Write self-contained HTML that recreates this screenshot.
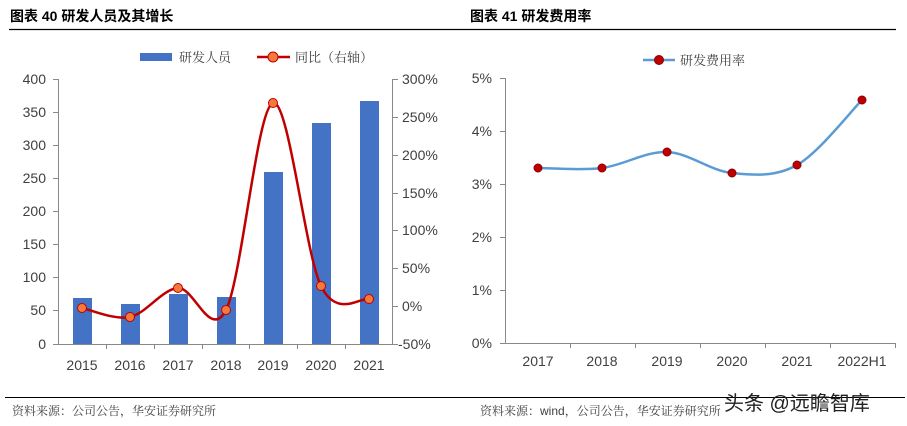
<!DOCTYPE html><html><head><meta charset="utf-8"><style>
body{margin:0;background:#fff;width:907px;height:426px;overflow:hidden}
svg{display:block}
.t{font-family:"Liberation Sans",sans-serif;font-size:14px;fill:#404040}
.c{font-family:"Liberation Serif","Noto Serif CJK SC",serif;fill:#404040;font-size:13px}
.h{font-family:"Liberation Sans","Noto Sans CJK SC",sans-serif;font-weight:bold;font-size:14px;fill:#000}
</style></head><body>
<svg width="907" height="426" viewBox="0 0 907 426">
<text class="h" x="10" y="21">图表 40 研发人员及其增长</text>
<text class="h" x="470" y="21">图表 41 研发费用率</text>
<line x1="9" y1="29.5" x2="450" y2="29.5" stroke="#000" stroke-width="1.2"/>
<line x1="450" y1="29.5" x2="896" y2="29.5" stroke="#000" stroke-width="1.2"/>
<!-- left legend -->
<rect x="140" y="53" width="32" height="8" fill="#4472c4"/>
<text class="c" x="179" y="62">研发人员</text>
<line x1="257" y1="57" x2="290" y2="57" stroke="#c00000" stroke-width="2.5"/>
<circle cx="273" cy="57" r="5" fill="#f4793b" stroke="#c00000"/>
<text class="c" x="295" y="62">同比（右轴）</text>
<!-- left axes -->
<g stroke="#898989" stroke-width="1">
<line x1="58.5" y1="79" x2="58.5" y2="344"/>
<line x1="58" y1="344.5" x2="393" y2="344.5"/>
<line x1="392.5" y1="79" x2="392.5" y2="344"/>
<path d="M53 79.5h5M53 112.5h5M53 145.5h5M53 178.5h5M53 211.5h5M53 244.5h5M53 277.5h5M53 310.5h5M53 344.5h5"/>
<path d="M393 79.5h5M393 117.5h5M393 155.5h5M393 193.5h5M393 230.5h5M393 268.5h5M393 306.5h5M393 344.5h5"/>
<path d="M106.5 344v5M154.5 344v5M202.5 344v5M249.5 344v5M297.5 344v5M345.5 344v5"/>
</g>
<g class="t" text-anchor="end">
<text x="46" y="84">400</text><text x="46" y="117">350</text><text x="46" y="150">300</text><text x="46" y="183">250</text><text x="46" y="216">200</text><text x="46" y="249">150</text><text x="46" y="282">100</text><text x="46" y="315">50</text><text x="46" y="349">0</text>
</g>
<g class="t">
<text x="402" y="84">300%</text><text x="402" y="122">250%</text><text x="402" y="160">200%</text><text x="402" y="198">150%</text><text x="402" y="235">100%</text><text x="402" y="273">50%</text><text x="402" y="311">0%</text><text x="398" y="349">-50%</text>
</g>
<g class="t" text-anchor="middle">
<text x="82" y="370">2015</text><text x="130" y="370">2016</text><text x="178" y="370">2017</text><text x="226" y="370">2018</text><text x="273" y="370">2019</text><text x="321" y="370">2020</text><text x="369" y="370">2021</text>
</g>
<g fill="#4472c4">
<rect x="73" y="298" width="19" height="46"/>
<rect x="121" y="304" width="19" height="40"/>
<rect x="169" y="294" width="19" height="50"/>
<rect x="217" y="297" width="19" height="47"/>
<rect x="264" y="172" width="19" height="172"/>
<rect x="312" y="123" width="19" height="221"/>
<rect x="360" y="101" width="19" height="243"/>
</g>
<path d="M82 308C90 309.5 114 320.3 130 317C146 313.7 162 289.2 178 288C194 286.8 210.2 340.8 226 310C241.8 279.2 257.2 107 273 103C288.8 99 305 253.3 321 286C337 318.7 361 296.8 369 299" fill="none" stroke="#c00000" stroke-width="2.5"/>
<g fill="#f4793b" stroke="#c00000" stroke-width="1">
<circle cx="82" cy="308" r="4.5"/><circle cx="130" cy="317" r="4.5"/><circle cx="178" cy="288" r="4.5"/><circle cx="226" cy="310" r="4.5"/><circle cx="273" cy="103" r="4.5"/><circle cx="321" cy="286" r="4.5"/><circle cx="369" cy="299" r="4.5"/>
</g>
<!-- right chart -->
<line x1="643" y1="60" x2="675" y2="60" stroke="#5b9bd5" stroke-width="2.5"/>
<circle cx="659" cy="60" r="4.5" fill="#c00000" stroke="#8b0000"/>
<text class="c" x="680" y="65">研发费用率</text>
<g stroke="#898989" stroke-width="1">
<line x1="505.5" y1="78" x2="505.5" y2="343"/>
<line x1="505" y1="343.5" x2="895" y2="343.5"/>
<path d="M500 78.5h5M500 131.5h5M500 184.5h5M500 237.5h5M500 290.5h5M500 343.5h5"/>
<path d="M570.5 343v5M635.5 343v5M700.5 343v5M765.5 343v5M830.5 343v5M895.5 343v5"/>
</g>
<g class="t" text-anchor="end">
<text x="492" y="83">5%</text><text x="492" y="136">4%</text><text x="492" y="189">3%</text><text x="492" y="242">2%</text><text x="492" y="295">1%</text><text x="492" y="348">0%</text>
</g>
<g class="t" text-anchor="middle">
<text x="538" y="366">2017</text><text x="602" y="366">2018</text><text x="667" y="366">2019</text><text x="732" y="366">2020</text><text x="797" y="366">2021</text><text x="862" y="366">2022H1</text>
</g>
<path d="M538 168C548.7 168 580.5 170.7 602 168C623.5 165.3 645.3 151.2 667 152C688.7 152.8 710.3 170.8 732 173C753.7 175.2 775.3 177.2 797 165C818.7 152.8 851.2 110.8 862 100" fill="none" stroke="#5b9bd5" stroke-width="2.5"/>
<g fill="#c00000" stroke="#8b0000">
<circle cx="538" cy="168" r="4"/><circle cx="602" cy="168" r="4"/><circle cx="667" cy="152" r="4"/><circle cx="732" cy="173" r="4"/><circle cx="797" cy="165" r="4"/><circle cx="862" cy="100" r="4"/>
</g>
<!-- footer -->
<line x1="5" y1="397.5" x2="905" y2="397.5" stroke="#000" stroke-width="1"/>
<text class="c" x="12" y="415" style="font-size:12px">资料来源：公司公告，华安证券研究所</text>
<text class="c" x="480" y="415" style="font-size:12px">资料来源：<tspan font-family="Liberation Sans">wind</tspan>，公司公告，华安证券研究所</text>
<text x="724" y="410" style="font-family:'Liberation Sans','Noto Sans CJK SC',sans-serif;font-size:20px;fill:#222">头条 @远瞻智库</text>
</svg>
</body></html>
